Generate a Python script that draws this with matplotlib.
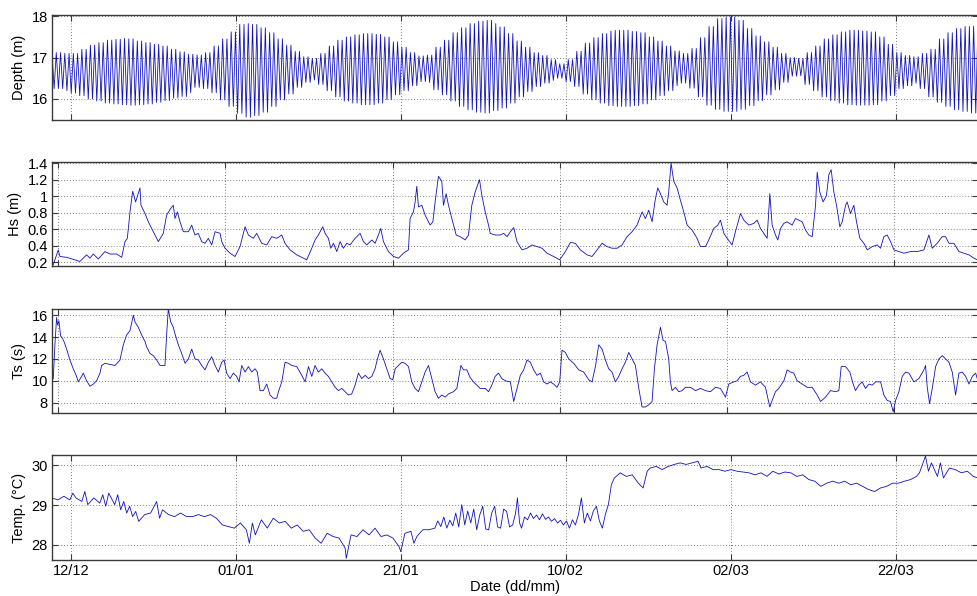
import numpy as np
import matplotlib
matplotlib.use("Agg")
import matplotlib.pyplot as plt

# ---------------- data (days since 12/12) ----------------
tick_days = [0, 20, 40, 60, 80, 100]
tick_labels = ["12/12", "01/01", "21/01", "10/02", "02/03", "22/03"]

# Daily tidal high / low water depth (m), day -2 .. 110
depth_first_day = -2
depth_high = [17.12, 17.10, 17.10, 17.20, 17.30, 17.36, 17.42, 17.44, 17.46, 17.45,
              17.40, 17.36, 17.32, 17.28, 17.20, 17.14, 17.08, 17.06, 17.12, 17.28,
              17.45, 17.62, 17.80, 17.82, 17.80, 17.72, 17.60, 17.45, 17.30, 17.15,
              17.02, 16.98, 17.10, 17.28, 17.42, 17.50, 17.55, 17.58, 17.58, 17.56,
              17.50, 17.38, 17.25, 17.12, 17.04, 17.06, 17.25, 17.42, 17.60, 17.72,
              17.82, 17.88, 17.90, 17.82, 17.74, 17.58, 17.40, 17.25, 17.12, 17.05,
              16.95, 16.85, 16.95, 17.15, 17.35, 17.48, 17.58, 17.64, 17.66, 17.66,
              17.63, 17.60, 17.50, 17.40, 17.28, 17.16, 17.10, 17.22, 17.48, 17.75,
              17.94, 17.98, 17.98, 17.90, 17.70, 17.52, 17.38, 17.25, 17.10, 17.00,
              16.98, 17.12, 17.28, 17.45, 17.55, 17.62, 17.66, 17.66, 17.64, 17.62,
              17.50, 17.32, 17.12, 17.05, 17.02, 17.10, 17.20, 17.45, 17.60, 17.70,
              17.75, 17.76, 17.72]
depth_low = [16.25, 16.20, 16.14, 16.08, 16.00, 15.95, 15.90, 15.88, 15.86, 15.85,
             15.86, 15.88, 15.92, 15.96, 16.02, 16.06, 16.15, 16.28, 16.25, 16.15,
             15.98, 15.82, 15.65, 15.56, 15.60, 15.68, 15.82, 15.98, 16.12, 16.28,
             16.40, 16.46, 16.35, 16.20, 16.05, 15.95, 15.90, 15.86, 15.86, 15.90,
             15.98, 16.10, 16.20, 16.32, 16.42, 16.40, 16.22, 16.10, 15.95, 15.82,
             15.74, 15.68, 15.66, 15.72, 15.78, 15.90, 16.05, 16.18, 16.30, 16.38,
             16.45, 16.50, 16.42, 16.30, 16.12, 15.98, 15.90, 15.84, 15.82, 15.82,
             15.84, 15.88, 15.98, 16.08, 16.20, 16.32, 16.38, 16.26, 16.05, 15.85,
             15.75, 15.70, 15.70, 15.75, 15.84, 15.96, 16.10, 16.22, 16.40, 16.55,
             16.56, 16.35, 16.20, 16.05, 15.96, 15.90, 15.86, 15.85, 15.85, 15.86,
             15.95, 16.08, 16.25, 16.32, 16.38, 16.25, 16.05, 15.92, 15.82, 15.74,
             15.70, 15.66, 15.68]

hs_days = [-0.60, 0.00, 0.20, 1.00, 2.59, 3.39, 3.79, 4.19, 4.79, 5.58, 6.18, 6.98, 7.58, 7.98,
           8.26, 8.58, 8.90, 9.25, 9.77, 9.89, 10.09, 10.37, 10.77, 11.37, 11.97, 12.56, 12.96,
           13.44, 13.76, 13.96, 14.24, 14.56, 14.96, 15.56, 15.96, 16.35, 16.75, 17.15, 17.55,
           17.95, 18.35, 18.75, 19.35, 19.55, 19.94, 20.54, 21.14, 21.74, 22.34, 22.74, 23.33,
           23.73, 24.33, 24.93, 25.53, 26.13, 26.73, 27.12, 27.72, 28.52, 29.32, 29.72, 30.32,
           30.71, 31.11, 31.63, 31.91, 32.31, 32.59, 32.91, 33.31, 33.71, 34.10, 34.50, 34.90,
           35.50, 36.10, 36.50, 36.90, 37.50, 37.89, 38.29, 38.57, 38.89, 39.49, 40.09, 40.69,
           41.28, 41.88, 42.08, 42.48, 42.68, 42.88, 43.08, 43.48, 43.88, 44.48, 44.80, 45.07,
           45.47, 45.87, 46.07, 46.39, 46.67, 47.07, 47.59, 48.07, 48.67, 49.06, 49.46, 49.86,
           50.38, 50.66, 51.06, 51.46, 51.66, 52.25, 52.85, 53.27, 53.67, 54.07, 54.47, 54.86,
           55.46, 56.06, 56.66, 57.26, 57.86, 58.45, 59.25, 59.97, 60.65, 61.25, 61.84, 62.44,
           63.24, 63.84, 64.44, 65.04, 65.63, 66.23, 66.83, 67.43, 68.03, 68.63, 69.22, 69.82,
           70.22, 70.62, 71.02, 71.42, 71.70, 72.02, 72.42, 72.81, 73.01, 73.29, 73.61, 74.01,
           74.41, 74.81, 75.21, 75.81, 76.40, 76.80, 77.40, 77.80, 78.40, 78.88, 79.20, 79.60,
           80.00, 80.59, 80.99, 81.59, 81.99, 82.59, 83.19, 83.59, 83.98, 84.38, 84.78, 85.10,
           85.38, 85.78, 86.06, 86.38, 86.77, 87.17, 87.77, 88.17, 88.57, 88.97, 89.37, 89.77,
           90.17, 90.57, 90.77, 91.08, 91.48, 91.88, 92.16, 92.44, 92.76, 93.08, 93.48, 93.76,
           94.16, 94.35, 94.75, 95.15, 95.47, 95.87, 96.35, 96.75, 97.35, 97.95, 98.34, 98.74,
           99.14, 99.54, 99.94, 100.54, 101.14, 101.93, 102.73, 103.53, 104.13, 104.53, 105.12,
           105.72, 106.12, 106.52, 107.12, 107.72, 108.31, 108.91, 109.51, 109.91]
hs_vals = [0.17, 0.35, 0.27, 0.26, 0.21, 0.29, 0.25, 0.30, 0.24, 0.33, 0.30, 0.30, 0.26, 0.45,
           0.49, 0.81, 1.06, 0.93, 1.10, 0.89, 0.85, 0.79, 0.69, 0.57, 0.45, 0.55, 0.77,
           0.85, 0.89, 0.73, 0.81, 0.69, 0.57, 0.57, 0.65, 0.53, 0.55, 0.45, 0.43,
           0.49, 0.41, 0.57, 0.55, 0.45, 0.37, 0.31, 0.27, 0.39, 0.63, 0.53, 0.49,
           0.55, 0.43, 0.41, 0.51, 0.49, 0.53, 0.43, 0.35, 0.29, 0.25, 0.23, 0.37,
           0.47, 0.53, 0.63, 0.55, 0.49, 0.37, 0.43, 0.33, 0.45, 0.37, 0.43, 0.41,
           0.49, 0.55, 0.45, 0.41, 0.47, 0.43, 0.53, 0.61, 0.45, 0.33, 0.27, 0.25,
           0.31, 0.35, 0.73, 0.81, 0.93, 1.12, 0.87, 0.89, 0.77, 0.65, 0.69, 0.93,
           1.24, 1.18, 0.89, 1.03, 0.89, 0.73, 0.53, 0.51, 0.47, 0.53, 0.89, 1.05,
           1.20, 1.01, 0.81, 0.65, 0.55, 0.53, 0.53, 0.55, 0.51, 0.57, 0.62, 0.45,
           0.35, 0.37, 0.41, 0.39, 0.37, 0.31, 0.27, 0.23, 0.33, 0.44, 0.43, 0.35,
           0.29, 0.27, 0.35, 0.43, 0.39, 0.37, 0.37, 0.41, 0.51, 0.57, 0.65, 0.81,
           0.73, 0.83, 0.69, 0.97, 1.10, 1.03, 0.93, 0.89, 1.05, 1.40, 1.18, 1.10,
           0.95, 0.81, 0.65, 0.59, 0.49, 0.39, 0.39, 0.47, 0.61, 0.65, 0.71, 0.55,
           0.49, 0.41, 0.57, 0.79, 0.71, 0.65, 0.67, 0.71, 0.61, 0.55, 0.49, 1.03,
           0.65, 0.53, 0.47, 0.61, 0.67, 0.69, 0.65, 0.73, 0.71, 0.69, 0.59, 0.53,
           0.51, 0.89, 1.29, 1.05, 0.93, 1.01, 1.26, 1.32, 1.05, 0.89, 0.63, 0.69,
           0.89, 0.93, 0.79, 0.89, 0.69, 0.49, 0.43, 0.35, 0.39, 0.41, 0.37, 0.51,
           0.53, 0.45, 0.35, 0.33, 0.31, 0.33, 0.33, 0.35, 0.53, 0.37, 0.43,
           0.51, 0.51, 0.43, 0.43, 0.33, 0.31, 0.29, 0.25, 0.23]

ts_days = [-0.60, -0.40, -0.20, -0.08, 0.08, 0.28, 0.48, 0.68, 1.00, 1.40, 1.79, 2.19, 2.39, 2.79,
           2.99, 3.39, 3.79, 4.19, 4.59, 4.99, 5.19, 5.58, 6.18, 6.78, 7.38, 7.78, 8.18, 8.58,
           8.98, 9.17, 9.57, 9.97, 10.37, 10.57, 10.97, 11.37, 11.77, 12.17, 12.76, 12.96, 13.16,
           13.44, 13.76, 13.96, 14.36, 14.76, 15.16, 15.56, 15.96, 16.35, 16.75, 17.15, 17.55,
           17.95, 18.35, 18.75, 19.15, 19.55, 19.83, 20.14, 20.54, 20.94, 21.34, 21.62, 21.94,
           22.34, 22.74, 23.14, 23.53, 23.81, 24.13, 24.53, 24.93, 25.33, 25.73, 26.13, 26.33,
           26.73, 27.12, 27.52, 27.92, 28.52, 29.12, 29.52, 29.92, 30.32, 30.71, 31.11, 31.51,
           31.91, 32.31, 32.71, 33.11, 33.51, 33.91, 34.30, 34.70, 35.10, 35.50, 35.90, 36.30,
           36.70, 37.10, 37.50, 37.89, 38.17, 38.49, 38.89, 39.29, 39.69, 40.01, 40.29, 40.69,
           41.08, 41.48, 41.88, 42.28, 42.68, 43.08, 43.48, 43.88, 44.28, 44.68, 45.07, 45.47,
           45.87, 46.27, 46.67, 47.27, 47.67, 48.15, 48.47, 48.86, 49.26, 49.66, 50.06, 50.46,
           51.06, 51.46, 51.85, 52.25, 52.65, 53.05, 53.47, 54.07, 54.47, 54.86, 55.26, 55.66,
           56.06, 56.46, 56.86, 57.26, 57.66, 58.06, 58.45, 58.85, 59.25, 59.65, 59.97, 60.25,
           60.65, 61.05, 61.65, 62.24, 62.84, 63.44, 63.84, 64.24, 64.64, 65.04, 65.44, 65.83,
           66.23, 66.63, 67.03, 67.43, 67.83, 68.23, 68.63, 69.03, 69.43, 69.82, 70.22, 70.62,
           71.02, 71.30, 71.62, 72.02, 72.34, 72.62, 73.01, 73.21, 73.41, 73.81, 74.21, 74.61,
           75.01, 75.61, 76.21, 76.80, 77.40, 78.00, 78.60, 79.20, 79.80, 80.19, 80.79, 81.19,
           81.59, 81.99, 82.39, 82.79, 83.39, 83.98, 84.58, 85.10, 85.38, 85.78, 86.18, 86.78,
           87.18, 87.57, 87.97, 88.37, 88.97, 89.57, 90.17, 90.77, 91.17, 91.76, 92.36, 92.96,
           93.36, 93.64, 94.16, 94.67, 95.07, 95.35, 95.75, 96.15, 96.55, 96.95, 97.35, 97.75,
           98.35, 98.74, 99.14, 99.54, 99.86, 100.14, 100.54, 100.94, 101.34, 101.74, 102.34,
           102.93, 103.53, 103.73, 103.93, 104.21, 104.53, 104.93, 105.33, 105.73, 106.13,
           106.52, 106.92, 107.32, 107.72, 108.12, 108.52, 108.92, 109.32, 109.72, 109.91]
ts_vals = [10.2, 13.3, 15.8, 15.1, 15.5, 14.1, 13.9, 13.6, 12.9, 11.9, 11.1, 10.4, 9.9, 10.4,
           10.7, 10.0, 9.5, 9.7, 10.0, 10.7, 11.4, 11.6, 11.5, 11.4, 11.9, 13.3, 14.2, 14.6,
           16.0, 15.4, 14.9, 14.2, 13.6, 13.1, 12.5, 12.3, 11.9, 11.4, 11.4, 14.2, 16.6,
           15.4, 14.9, 14.3, 13.3, 12.5, 11.6, 12.0, 12.9, 12.0, 11.9, 11.4, 11.0,
           11.7, 12.2, 11.4, 10.8, 11.7, 11.9, 10.7, 10.2, 10.7, 10.4, 9.9, 11.4,
           10.8, 11.3, 10.8, 11.1, 10.8, 9.1, 9.1, 9.7, 8.7, 8.4, 8.4, 9.0,
           9.9, 11.7, 11.6, 11.4, 11.3, 10.5, 9.9, 11.3, 10.4, 11.4, 10.8, 11.1,
           10.7, 10.4, 9.9, 9.4, 9.1, 9.3, 9.0, 8.7, 8.8, 9.6, 10.7, 10.2,
           10.5, 10.2, 10.4, 11.1, 12.0, 12.8, 12.0, 11.1, 10.2, 10.1, 11.1, 11.4,
           11.7, 11.6, 11.3, 9.9, 9.3, 9.0, 9.9, 10.8, 11.4, 10.2, 9.0, 8.4,
           8.7, 8.5, 8.8, 9.0, 9.3, 11.4, 11.0, 11.0, 10.3, 9.9, 9.6, 9.3,
           9.3, 9.0, 9.6, 10.4, 10.7, 10.2, 10.0, 9.9, 8.1, 9.3, 10.5, 11.0,
           11.9, 11.7, 11.0, 10.5, 10.7, 9.9, 9.7, 9.9, 9.7, 9.4, 9.9, 12.8,
           12.6, 12.0, 11.6, 11.0, 10.8, 10.1, 9.9, 11.3, 13.3, 12.9, 11.9, 11.1,
           10.8, 9.9, 10.4, 11.1, 11.7, 12.6, 12.0, 11.4, 9.3, 7.6, 7.6, 7.8,
           8.1, 11.1, 13.3, 14.9, 13.7, 13.6, 12.0, 9.9, 9.1, 9.4, 9.0, 9.1,
           9.4, 9.4, 9.1, 9.3, 9.1, 9.0, 9.4, 9.3, 8.5, 9.7, 9.9, 10.0,
           10.4, 10.5, 10.8, 9.9, 9.6, 9.9, 9.4, 7.6, 8.2, 9.0, 9.3, 10.0,
           11.0, 10.8, 10.7, 10.0, 9.7, 9.4, 9.4, 8.7, 8.1, 8.5, 9.1, 9.0,
           9.1, 11.3, 11.3, 10.8, 9.7, 9.1, 9.6, 9.9, 9.3, 9.7, 9.6, 9.9,
           9.9, 8.7, 8.2, 8.1, 7.15, 8.2, 9.0, 10.4, 10.8, 10.7, 9.9,
           10.2, 11.0, 11.4, 9.4, 7.9, 9.3, 11.3, 12.0, 12.3, 12.0,
           11.7, 10.8, 8.7, 10.7, 10.8, 10.4, 9.7, 10.4, 10.7, 10.2]

temp_days = [-2.32, -1.60, -0.87, -0.15, 0.22, 0.58, 1.31, 1.67, 2.03, 2.76, 3.48, 3.85, 4.21,
             4.57, 5.30, 5.66, 6.02, 6.39, 6.75, 7.11, 7.47, 7.84, 8.20, 8.93, 9.65, 10.38,
             10.74, 11.10, 11.83, 12.55, 13.28, 14.01, 14.73, 15.46, 16.18, 16.91, 17.63,
             18.36, 19.09, 19.81, 20.54, 21.26, 21.63, 21.99, 22.35, 23.08, 23.80, 24.53,
             25.25, 25.98, 26.71, 27.43, 28.16, 28.88, 29.61, 30.33, 31.06, 31.79, 32.51,
             33.24, 33.38, 33.96, 34.69, 35.41, 36.14, 36.87, 37.59, 38.32, 39.04, 39.77,
             39.99, 40.49, 41.22, 41.58, 41.94, 42.67, 43.40,
             44.12, 44.48, 44.85, 45.21, 45.57, 45.94, 46.30, 46.66, 47.02, 47.39, 47.75,
             48.11, 48.48, 48.84, 49.20, 49.57, 49.93, 50.29, 50.65, 51.02, 51.38, 51.74,
             52.10, 52.47, 52.83, 53.19, 53.56, 53.92, 54.14, 54.40, 54.64, 55.00, 55.37,
             55.73, 56.09, 56.46, 56.82, 57.18, 57.55, 57.91, 58.27, 58.64, 59.00, 59.36,
             59.72, 60.09, 60.45, 60.81, 61.17, 61.54, 61.90, 62.26, 62.62, 62.99, 63.35,
             63.72, 64.08, 64.44, 64.80,
             65.17, 65.53, 65.89, 66.62,
             67.34, 68.07, 68.80, 69.38, 69.88, 70.25, 70.97, 71.70, 72.42, 73.15, 73.87,
             74.60, 75.33, 76.05, 76.41, 77.14, 77.87, 78.59, 79.32, 80.04, 80.77, 81.49,
             82.22, 82.95, 83.67, 84.40, 85.12, 85.85, 86.57, 87.30, 88.03, 88.75, 89.48,
             90.20, 90.93, 91.65, 92.38, 93.11, 93.83, 94.56, 95.28, 96.01, 96.73, 97.46,
             98.19, 98.91, 99.64, 100.36, 101.09, 101.81, 102.54, 102.90, 103.63, 103.99,
             104.35, 105.08, 105.44, 105.81, 106.53, 107.26, 107.98, 108.71, 109.43, 110.00]
temp_vals = [29.18, 29.13, 29.22, 29.13, 29.30, 29.18, 29.09, 29.34, 29.01, 29.18, 29.05, 29.26,
             28.97, 29.30, 29.01, 29.26, 28.88, 29.09, 28.80, 28.97, 28.71, 28.84, 28.59,
             28.76, 28.80, 29.09, 28.67, 28.88, 28.76, 28.71, 28.80, 28.71, 28.71, 28.76,
             28.71, 28.76, 28.67, 28.50, 28.46, 28.42, 28.55, 28.38, 28.04, 28.55, 28.25,
             28.63, 28.42, 28.67, 28.55, 28.59, 28.42, 28.50, 28.34, 28.38, 28.17, 28.04,
             28.29, 28.21, 28.17, 27.92, 27.66, 28.25, 28.21, 28.38, 28.25, 28.42, 28.21,
             28.25, 28.17, 27.96, 27.83, 28.29, 28.34, 28.04, 28.21, 28.38, 28.38,
             28.42, 28.60, 28.46, 28.70, 28.42, 28.62, 28.48, 28.80, 28.45, 29.01, 28.50,
             28.85, 28.55, 28.90, 28.38, 28.75, 28.97, 28.40, 28.38, 28.80, 28.97, 28.45,
             28.42, 28.90, 28.84, 28.45, 28.50, 28.80, 29.18, 28.55, 28.42, 28.70, 28.63,
             28.80, 28.66, 28.75, 28.63, 28.78, 28.64, 28.70, 28.59, 28.66, 28.55, 28.62,
             28.50, 28.60, 28.42, 28.63, 28.50, 28.76, 29.18, 28.55, 28.80, 28.60, 28.85,
             28.97, 28.60, 28.42, 28.76,
             29.01, 29.51, 29.68, 29.81,
             29.72, 29.76, 29.55, 29.43, 29.85, 29.93, 29.97, 29.89, 29.97, 30.02, 30.06,
             30.02, 30.06, 30.10, 29.93, 29.97, 29.89, 29.89, 29.85, 29.89, 29.85, 29.83,
             29.81, 29.76, 29.81, 29.72, 29.85, 29.78, 29.83, 29.81, 29.72, 29.76, 29.64,
             29.60, 29.47, 29.55, 29.60, 29.55, 29.60, 29.51, 29.55, 29.47, 29.39, 29.34,
             29.43, 29.47, 29.55, 29.55, 29.60, 29.64, 29.72, 29.81, 30.23, 29.85,
             30.06, 29.72, 30.06, 29.68, 29.93, 29.89, 29.81, 29.85, 29.72, 29.68]

# ---------------- build depth curve from daily high / low ----------------
half_tide = 12.42 / 24.0 / 2.0
t_depth = np.arange(-2.31, 110.0, half_tide)
depth_series = []
for k, t in enumerate(t_depth):
    idx = int(np.clip(np.floor(t) - depth_first_day, 0, len(depth_high) - 1))
    depth_series.append(depth_high[idx] if k % 2 == 0 else depth_low[idx])

# ---------------- figure ----------------
plt.rcParams['font.family'] = ['Liberation Sans', 'DejaVu Sans']
W, H = 977, 596
fig = plt.figure(figsize=(W / 100, H / 100), dpi=100)

def px_axes(top, bottom, left=52, right=978):
    return fig.add_axes([left / W, 1 - bottom / H, (right - left) / W, (bottom - top) / H])

line_col = '#1010c0'
spine_col = '#3a3a3a'

panels = [
    dict(box=(15.3, 119.7), x=t_depth, y=depth_series, xlim=(-2.31, 110.0), ylim=(15.5, 18.02),
         yticks=[16, 17, 18], yticklabels=['16', '17', '18'], ylabel='Depth (m)'),
    dict(box=(162.3, 266.0), x=hs_days, y=hs_vals, xlim=(-0.75, 110.0), ylim=(0.155, 1.41),
         yticks=[0.2, 0.4, 0.6, 0.8, 1.0, 1.2, 1.4],
         yticklabels=['0.2', '0.4', '0.6', '0.8', '1', '1.2', '1.4'], ylabel='Hs (m)'),
    dict(box=(308.7, 413.0), x=ts_days, y=ts_vals, xlim=(-0.75, 110.0), ylim=(7.05, 16.6),
         yticks=[8, 10, 12, 14, 16], yticklabels=['8', '10', '12', '14', '16'], ylabel='Ts (s)'),
    dict(box=(455.3, 560.0), x=temp_days, y=temp_vals, xlim=(-2.31, 110.0), ylim=(27.62, 30.25),
         yticks=[28, 29, 30], yticklabels=['28', '29', '30'], ylabel='Temp. (°C)'),
]

axes = []
for i, p in enumerate(panels):
    ax = px_axes(*p['box'])
    ax.plot(p['x'], p['y'], color=line_col, lw=0.6)
    ax.set_xlim(*p['xlim'])
    ax.set_ylim(*p['ylim'])
    ax.set_xticks(tick_days)
    ax.set_yticks(p['yticks'])
    ax.set_yticklabels(p['yticklabels'])
    if i == len(panels) - 1:
        ax.set_xticklabels(tick_labels)
        ax.set_xlabel('Date (dd/mm)', fontsize=10.5, labelpad=1)
    else:
        ax.set_xticklabels([])
    ax.set_ylabel(p['ylabel'], fontsize=10.5, labelpad=4)
    ax.grid(True, linestyle=(0, (1, 2.5)), color='#555555', linewidth=0.6)
    ax.tick_params(direction='in', top=True, right=True, length=4, width=0.8,
                   color=spine_col, labelsize=10.5, pad=3)
    for s in ax.spines.values():
        s.set_color(spine_col)
        s.set_linewidth(1.0)
    axes.append(ax)

fig.savefig('out.png', dpi=100)
